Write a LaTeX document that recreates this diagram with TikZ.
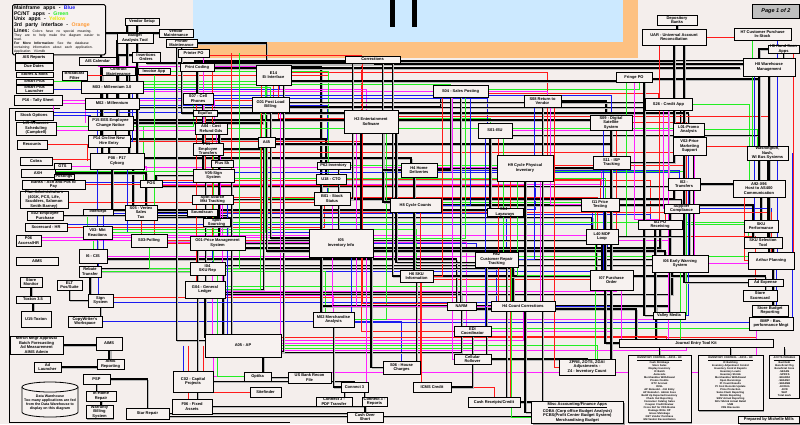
\documentclass[tikz,border=0pt]{standalone}
\usepackage{fontspec}
\setmainfont{Liberation Sans}
\usetikzlibrary{shadows}
\definecolor{bgc}{HTML}{F4EEEC}
\definecolor{boxc}{HTML}{F7F2F0}
\definecolor{skyc}{HTML}{CCE9FF}
\definecolor{orc}{HTML}{FDC182}
\definecolor{lb}{HTML}{1A1AF0}
\definecolor{lg}{HTML}{22EE22}
\definecolor{lr}{HTML}{FF1A1A}
\definecolor{lm}{HTML}{FF22FF}
\definecolor{yel}{HTML}{E6E600}
\definecolor{ora}{HTML}{FF9933}
\pgfdeclarelayer{bg}
\pgfdeclarelayer{lines}
\pgfsetlayers{bg,lines,main}
\tikzset{
 box/.style={draw,line width=0.7pt,fill=boxc,inner sep=0pt,align=center,
   font=\fontsize{4}{4.5}\selectfont\bfseries,
   drop shadow={shadow xshift=1.3pt,shadow yshift=-1.3pt,fill=gray!75,opacity=1}},
 lbox/.style={draw,line width=0.7pt,fill=boxc,inner sep=1.5pt,align=center,anchor=north,
   font=\fontsize{2.6}{3.0}\selectfont\bfseries,
   drop shadow={shadow xshift=1.3pt,shadow yshift=-1.3pt,fill=gray!75,opacity=1}},
 wk/.style={draw=black,line width=1.1pt,preaction={draw=gray!55,line width=1.1pt,transform canvas={xshift=1.2pt,yshift=-1.2pt}}},
 wr/.style={draw=lr,line width=0.9pt},
 wg/.style={draw=lg,line width=0.9pt},
 wb/.style={draw=lb,line width=0.9pt},
 wm/.style={draw=lm,line width=0.9pt}
}
\newcommand\bx[6]{\node[box,minimum width={(#4-#2)*1pt},minimum height={(#5-#3)*1pt}] (#1) at ({(#2+#4)/2},{(#3+#5)/2}) {#6};}
\begin{document}
\begin{tikzpicture}[x=1pt,y=-1pt]
\useasboundingbox (0,0) rectangle (800,424);
\begin{pgfonlayer}{bg}
\fill[bgc] (0,0) rectangle (800,424);
\fill[orc] (193,0) rectangle (638,58);
\fill[skyc] (193,0) rectangle (623,42);
\fill[black] (390,0) rectangle (395,27);
\fill[black] (412,0) rectangle (417,27);
\end{pgfonlayer}

% legend
\node[draw,line width=1pt,rounded corners=1.5pt,fill=boxc,anchor=north west,inner sep=1.5pt,text width=90pt,align=left,font=\bfseries] (leg) at (12,4) {%
{\fontsize{5.2}{5.5}\selectfont Mainframe apps - \textcolor{lb}{Blue}\\PC/NT apps - \textcolor{lg}{Green}\\Unix apps - \textcolor{yel}{Yellow}\\3rd party interface - \textcolor{ora}{Orange}\par}%
{\fontsize{3.4}{4.1}\selectfont {\fontsize{5.2}{5}\selectfont Lines:}\mdseries\ Colors have no special meaning. They are to help make the diagram easier to read.\par
\bfseries For More Information:\mdseries\ See the database containing information about each application. Application Vii.mdb\par}};

\node[draw,line width=1pt,fill=gray!50,font=\fontsize{5.5}{6}\selectfont\bfseries\itshape,minimum width=47pt,minimum height=14pt,inner sep=0pt] (page) at (776,11) {Page 1 of 2};

\bx{vsetup}{125}{18}{159}{25}{Vendor Setup}
\bx{vmaint}{159}{29}{193}{37}{Vendor\\Maintenance}
\bx{bat}{117}{33}{153}{43}{Budget\\Analysis Tool}
\bx{pmaint}{166}{39}{197}{47}{Printer\\Maintenance}
\bx{ppo}{178}{49}{209}{57}{Printer PO}
\bx{pcod}{180}{63}{214}{71}{Print Coding}
\bx{ins}{132}{52}{160}{62}{Insertions\\Orders}
\bx{inv}{138}{68}{170}{74}{Invoice App}
\bx{aiscal}{79}{57}{116}{65}{AIS Calendar}
\bx{cmaint}{102}{68}{135}{75}{Contract\\Maintenance}
\bx{aisrep}{15}{53}{53}{62}{AIS Reports}
\bx{due}{15}{63}{53}{70}{Due Dates}
\bx{stores}{16}{72}{53}{77}{Stores \& Mkts}
\bx{smart}{16}{79}{53}{84}{Smart Plus}
\bx{smartl}{16}{85}{53}{93}{Smart Plus\\Launcher}
\bx{bfilt}{62}{71}{87}{80}{Broadcast\\Filter}
\bx{m03}{81}{81}{143}{93}{M03 - Millennium 3.0}
\bx{p16}{14}{95}{62}{105}{P16 - Tally Sheet}
\bx{m02}{85}{98}{139}{109}{M02 - Millennium}
\bx{stock}{15}{111}{53}{120}{Stock Options}
\bx{lir}{16}{122}{56}{135}{LIR Resource\\Scheduling\\(Campbell)}
\bx{p15}{88}{116}{133}{130}{P15 EES Employee\\Change Notice}
\bx{p14}{88}{135}{130}{147}{P14 On-line New\\Hire Entry}
\bx{recounts}{17}{140}{47}{149}{Recounts}
\bx{p08}{90}{153}{144}{169}{P08 - P17\\Cyborg}
\bx{cobra}{20}{157}{52}{165}{Cobra}
\bx{gts}{54}{163}{71}{169}{GTS}
\bx{axh}{21}{169}{55}{177}{AXH}
\bx{postings}{54}{174}{74}{179}{Postings}
\bx{banks}{22}{180}{85}{189}{Banks - Ach and Pos to\\Pay}
\bx{pos}{140}{180}{162}{187}{POS}
\bx{plan}{20}{191}{68}{208}{Plan Administrators\\(401K, PCS, Life,\\Scudders, Salomon\\Smith Barney)}
\bx{intercept}{83}{209}{113}{215}{Intercept}
\bx{s05}{125}{205}{157}{220}{S05 - Vertex\\Sales\\Tax}
\bx{e02}{27}{211}{63}{220}{E02-Employee\\Purchase}
\bx{schr}{25}{223}{67}{231}{Scorecard - HR}
\bx{v03}{83}{226}{112}{239}{V03- Mkt\\Reactions}
\bx{p06}{16}{235}{41}{246}{P06\\Access/HR}
\bx{s03}{131}{234}{167}{247}{S03-Polling}
\bx{i6}{79}{249}{107}{263}{I6 - CIS}
\bx{aims}{16}{257}{58}{265}{AIMS}
\bx{rebate}{79}{266}{101}{277}{Rebate\\Transfer}
\bx{monitor}{20}{277}{42}{287}{Store\\Monitor}
\bx{elt}{57}{280}{82}{290}{ELT\\Pos/Suite}
\bx{toxton}{16}{296}{50}{303}{Toxton 3.5}
\bx{u15}{21}{311}{51}{327}{U15-Toxton}
\bx{sign}{88}{294}{113}{307}{Sign\\System}
\bx{copyw}{68}{316}{102}{327}{CopyWriter's\\Workspace}
\bx{merch}{10}{336}{63}{354}{Merch Mngr Approval\\Batch Forecasting\\Ad Measurement\\AIMS Admin}
\bx{aims2}{96}{337}{122}{350}{AIMS}
\bx{aimsrep}{97}{359}{124}{369}{AIMS\\Reporting}
\bx{adl}{34}{362}{61}{372}{Ad\\Launcher}
\bx{psp}{83}{374}{110}{384}{PSP}
\bx{inhome}{86}{391}{116}{401}{In-Home\\Repair}
\bx{warranty}{86}{406}{113}{418}{Warranty\\Billing\\System}
\bx{star}{126}{408}{169}{419}{Star Repair}
\bx{c02}{173}{371}{213}{392}{C02 - Capital\\Projects}
\bx{f06}{172}{399}{212}{414}{F06 - Fixed\\Assets}
\bx{g04}{185}{281}{225}{298}{G04 - General\\Ledger}
\bx{m02m}{313}{312}{354}{327}{M02 Merchandise\\Analysis}
\bx{a05}{205}{334}{281}{357}{A05 - AP}
\bx{optika}{244}{372}{271}{381}{Optika}
\bx{usbank}{288}{372}{331}{383}{US Bank Recon\\File}
\bx{conn3}{341}{382}{368}{392}{Connect 3}
\bx{conn3pdf}{316}{397}{352}{406}{Connect 3 -\\PDF Transfer}
\bx{conn3rep}{362}{397}{387}{406}{Connect 3 -\\Reports}
\bx{sitefinder}{250}{387}{281}{397}{Sitefinder}
\bx{cashover}{347}{412}{383}{422}{Cash Over\\Short}
\bx{s06}{383}{361}{420}{374}{S06 - House\\Charges}
\bx{narm}{447}{302}{476}{310}{NARM}
\bx{h4cc}{491}{301}{555}{311}{H4 Count Corrections}
\bx{edi}{454}{326}{491}{336}{EDI\\Coordinator}
\bx{cell}{454}{354}{491}{364}{Cellular\\Rollover}
\bx{icms}{413}{382}{451}{392}{ICMS Credit}
\bx{cashrec}{468}{397}{520}{407}{Cash Receipts/Credit}
\bx{zpre}{559}{359}{615}{375}{ZPRE, ZOTS, ZGAI\\Adjustments -\\Z4 - Inventory Count}
\bx{scorecard}{743}{290}{777}{301}{Store\\Scorecard}
\bx{sbudget}{752}{305}{788}{316}{Store Budget\\Reporting}
\bx{bmp}{749}{317}{793}{330}{BMP - Bus.\\performance Mngt}
\bx{valley}{653}{312}{685}{319}{Valley Media}
\bx{jet}{619}{339}{773}{347}{Journal Entry Tool Kit}
\bx{depo}{657}{15}{697}{25}{Depository\\Banks}
\bx{uar}{642}{29}{706}{45}{UAR - Universal Account\\Reconciliation}
\bx{h7}{734}{28}{791}{40}{H7 Customer Purchase\\In-Stock}
\bx{h6hand}{768}{45}{799}{53}{H6 Hand Scan\\Apps}
\bx{h8wm}{743}{58}{795}{76}{H8 Warehouse\\Management}
\bx{fringe}{616}{72}{652}{82}{Fringe PO}
\bx{s26}{645}{98}{692}{110}{S26 - Credit App}
\bx{s09}{590}{115}{632}{130}{S09 - Digital\\Satellite\\System}
\bx{l01}{673}{123}{704}{136}{L01-Promo\\Analysis}
\bx{s04}{433}{85}{488}{97}{S04 - Sales Posting}
\bx{s08}{524}{95}{561}{107}{S08 Return to\\Vendor}
\bx{s01}{478}{123}{512}{138}{S01-ISU}
\bx{corr}{345}{56}{400}{63}{Corrections}
\bx{e14}{256}{65}{291}{85}{E14\\Ei Interface}
\bx{g01p}{252}{97}{289}{112}{G01 Post Load\\Billing}
\bx{h2}{344}{110}{398}{133}{H2 Entertainment\\Software}
\bx{s07}{183}{93}{213}{104}{S07 - Cell\\Phones}
\bx{equifax}{193}{110}{217}{116}{Equifax}
\bx{a04}{195}{123}{227}{134}{A04 - Cost\\Refund Gds}
\bx{a45}{258}{137}{275}{147}{A45}
\bx{p01}{193}{143}{223}{155}{P01 -\\Employee\\Transfers}
\bx{plussk}{211}{160}{233}{167}{Plus Sk}
\bx{v05}{193}{169}{234}{182}{V05-Sign\\System}
\bx{spot}{192}{195}{233}{204}{Spot Source\\Mkt Tracking}
\bx{sound}{187}{209}{217}{216}{Soundscan}
\bx{spotsrc}{203}{219}{230}{226}{Spot\\Sourcing}
\bx{g01pm}{190}{236}{245}{250}{G01-Price Management\\System}
\bx{u18}{316}{174}{346}{184}{U18 - CTO}
\bx{p62}{317}{162}{350}{169}{P62 Inventory}
\bx{b01}{314}{192}{350}{205}{B01 - Stock\\Status}
\bx{i05}{309}{229}{373}{257}{I05\\Inventory Info}
\bx{i04}{190}{262}{225}{275}{I04\\SKU Rep}
\bx{h4hd}{401}{163}{437}{177}{H4 Home\\Deliveries}
\bx{h9}{497}{155}{553}{181}{H9 Cycle Physical\\Inventory}
\bx{h8cc}{390}{198}{441}{212}{H8 Cycle Counts}
\bx{s14}{487}{208}{523}{216}{S14 -\\Layaways}
\bx{h82}{475}{252}{518}{267}{H82\\Customer Repair\\Tracking}
\bx{h6sku}{400}{270}{433}{282}{H6 SKU\\Information}
\bx{i11}{581}{198}{619}{211}{I11 Price\\Testing}
\bx{l40}{586}{229}{618}{244}{L40 MDF\\Loop}
\bx{i07}{590}{270}{633}{290}{I07 Purchase\\Order}
\bx{s11}{593}{156}{630}{169}{S11 - ISP\\Tracking}
\bx{v02}{673}{137}{706}{155}{V02-Price\\Marketing\\Support}
\bx{wash}{747}{146}{788}{160}{Washington,\\Nash,\\WI Bus Systems}
\bx{i02}{668}{178}{700}{190}{I02 -\\Transfers}
\bx{a92}{733}{180}{785}{197}{A92-X96\\Host to AS400\\Communication}
\bx{supp}{664}{204}{699}{213}{Supplier\\Compliance}
\bx{i01}{638}{220}{682}{229}{I01 PO\\Receiving}
\bx{skuperf}{744}{220}{778}{232}{SKU\\Performance}
\bx{skusel}{744}{237}{782}{248}{SKU Selection\\Tool}
\bx{i06}{652}{255}{708}{272}{I06 Early Warning\\System}
\bx{arthur}{748}{252}{794}{269}{Arthur Planning}
\bx{adexp}{748}{279}{783}{286}{Ad Expense}

\node[box,anchor=north west,minimum width=92pt,minimum height=22pt,font=\fontsize{4}{4.6}\selectfont\bfseries] (misc) at (531,401) {\underline{Misc Accounting/Finance Apps}\\COBA (Corp office Budget Analysis)\\PCBS(Profit Center Budget System)\\Merchandising Budget};
\node[box,anchor=north west,minimum width=61pt,minimum height=7pt] (prep) at (738,416) {Prepared by Michelle Mills};

\node[lbox,text width=60pt] (list1) at (659.5,355) {\underline{INVENTORY CONTROL - A/P/A - HC}\\Cash Shrinkage\\Store Sales\\Display Inventory\\IC Batch\\Autocode\\Merchandise Withdrawal\\Promo Credits\\RTV Accrual\\IC/GL\\AP Remodel - Jrnl Entry\\AP Remodel - Admin Fees\\Build Up Expected Inventory\\Check Out Reporting\\Consumer Catalog Sales\\Coupon Credit Review\\Cross Ref for VDS Books\\Damage Write Off\\Gross Shrinkage\\GST Vendor Purchase\\GM Vendor Reconciliation};
\node[lbox,text width=62pt] (list2) at (730.5,355) {\underline{INVENTORY CONTROL - A/P/A - HC}\\IC Batching\\Inventory Adjustment Control\\Inventory Control Reports\\Inventory Levels\\Inventory Shrink\\Merchandise Withdrawal\\Open Receivings\\PI Count Results\\PI Cost Records Update\\Price Protection\\Sales Flash Reporting\\Shrink Reporting\\SWV Actual Reporting\\SKU Shrink Actual Retail\\USM\\VDS Discounts};
\node[lbox,text width=27pt] (list3) at (784.5,355) {\underline{ACCTS PAYABLE}\\Bad Debt\\Beneficial Chg\\Beneficial Cons\\-SEARS\\-SPIFFS\\-SEARS2\\-SEARSC\\-SEARSB\\-EXCHG\\-DVD\\WAT\\Total mark};

% data warehouse cylinder
\draw[line width=0.8pt,fill=boxc] (22,387) -- (22,412) arc[start angle=180,end angle=360,x radius=28pt,y radius=5pt] -- (78,387);
\draw[line width=0.8pt,fill=boxc] (50,387) ellipse[x radius=28pt,y radius=5pt];
\node[font=\fontsize{3.6}{4}\selectfont\bfseries,align=center,inner sep=0pt] (dw) at (50,403) {Data Warehouse\\Too many applications are fed\\from the Data Warehouse to\\display on this diagram};

\begin{pgfonlayer}{lines}
\draw[line width=0.9pt] (60,108) -- (9,108) -- (9,422) -- (290,422);
% horizontal then vertical
\foreach \fa/\fb/\col/\p/\q in {
aiscal/m03/wk/0/-10, bat/m02/wk/-3/5, ins/p15/wk/2/8, inv/p08/wk/0/12, vsetup/m03/wk/0/15,
vmaint/p14/wk/0/-8, pmaint/a45/wk/0/0, ppo/h2/wr/-2/-10, pcod/i05/wk/0/-20, m03/h2/wm/-2/-5,
m03/s04/wg/3/-10, m02/b01/wb/-2/-5, m02/e14/wr/3/0, p16/p15/wm/-3/-25, stock/p15/wb/0/-20,
lir/pos/wg/2/-8, p15/g01p/wk/0/-8, p14/u18/wk/2/-5, recounts/p08/wr/0/-30, p08/s05/wk/-3/-8,
cobra/p08/wr/2/-25, gts/pos/wm/0/-5, axh/s05/wk/0/5, banks/s03/wr/0/5, plan/i05/wr/-3/-20,
intercept/s05/wr/2/10, e02/v03/wg/0/-10, schr/i6/wg/0/0, p06/s03/wm/0/0, v03/i05/wb/0/-30,
i6/g04/wb/0/0, rebate/a05/wk/0/-20, s03/h82/wb/-3/-20, s05/h8cc/wk/0/-15, pos/h9/wr/-2/0,
pos/i01/wr/3/-10, g01pm/i05/wk/0/0, i04/h6sku/wg/0/0, g04/narm/wk/-3/0, g04/h82/wg/3/15,
i05/i07/wm/3/0, i05/l40/wb/-4/5, h8cc/i11/wg/3/-5, s14/i01/wb/-2/-10, h82/i06/wk/0/-10,
h6sku/i07/wr/-3/-15, h4hd/s11/wk/2/-10, h9/v02/wr/3/-5, h9/i02/wg/-3/0, b01/s14/wm/0/5,
u18/h9/wk/0/-15, h2/s01/wg/3/-5, s04/s26/wr/-2/-10, s04/fringe/wg/2/5, s08/s09/wk/0/-5,
s01/l01/wm/0/-5, e14/s08/wr/3/5, g01p/s04/wk/-2/-20, corr/h8wm/wk/-1/-20, uar/h7/wb/0/-10,
fringe/h8wm/wk/-2/-10, s26/a92/wg/0/-10, s09/supp/wr/0/5, l01/wash/wg/0/-10, v02/a92/wr/0/0,
i02/skuperf/wk/0/0, supp/arthur/wb/0/0, i01/skusel/wg/0/-15, i06/arthur/wm/0/0, l40/adexp/wr/0/-10,
i11/i06/wk/0/-10, h7/i02/wr/-3/0, h6hand/a92/wk/0/0, m02m/h4cc/wr/0/0, a05/zpre/wg/0/10,
a05/jet/wm/-5/-10, narm/valley/wk/0/0, h4cc/jet/wk/0/-40, edi/i07/wm/0/0, cell/zpre/wk/0/0,
icms/cashrec/wr/0/0, star/misc/wk/-3/-20, sign/h82/wb/-2/0, copyw/s06/wb/0/0, psp/star/wk/0/0,
aims2/aimsrep/wk/0/0, merch/aims2/wk/0/0, adl/aims2/wk/0/0, ppo/uar/wk/-8/0,
p08/h4hd/wk/3/-8, pos/s11/wm/-1/-10, s05/h9/wb/3/10, v05/i11/wg/-3/5, spot/l40/wr/2/-5,
g01pm/i06/wm/3/-12, i04/i07/wb/-3/8, g04/i06/wk/-5/-8, i6/h4cc/wm/0/20, rebate/m02m/wg/0/-8,
sign/narm/wr/3/-5, p06/i05/wm/3/-25, schr/b01/wr/0/-8, v03/h6sku/wg/3/0, s03/edi/wm/-2/-6,
intercept/h82/wb/-1/10, axh/v05/wg/2/-10, banks/i04/wb/2/5, e02/g01pm/wk/0/10, stock/a45/wb/3/-5,
lir/p01/wm/-2/8, p14/h2/wr/0/-10, p15/s07/wg/-3/-5, m02/s01/wb/5/-8, m03/s08/wm/-4/5,
bfilt/p62/wr/0/-5, smartl/e14/wb/0/6, smart/g01p/wg/0/-4, p16/a04/wm/0/3, cmaint/b01/wg/0/-4,
m02m/bmp/wb/-3/0, a05/jet/wr/8/60, usbank/bmp/wm/5/-15, edi/sbudget/wg/3/0,
p15/s09/wk/3/-10, m02/l01/wk/-4/-8, g01p/s26/wk/2/0, e14/fringe/wk/-6/0, a45/s11/wk/-2/0,
p01/v02/wr/-3/0, b01/i02/wk/0/-10, u18/i11/wr/0/0, p62/h9/wg/0/-20, s05/l40/wk/-5/-10,
s03/i07/wk/0/-15, g01pm/i01/wk/-5/0, i04/i06/wk/3/-20, g04/i07/wm/-2/5, i6/narm/wk/-3/-5,
rebate/h4cc/wk/3/-10, v03/l40/wm/-3/-3, schr/i11/wb/3/-8, intercept/s14/wk/2/0, p08/s14/wm/-6/5,
pos/i02/wk/-3/0, v05/i02/wb/3/-5, spot/supp/wk/0/0, sound/i01/wr/0/5, spotsrc/skuperf/wg/0/0,
s07/s09/wb/3/0, equifax/l01/wk/0/0, a04/v02/wg/0/0, pcod/h8wm/wk/-1/-30, ppo/h6hand/wk/-11/0,
ins/corr/wk/-6/0, aiscal/e14/wm/-5/0, m03/g01p/wg/0/0, h2/h8wm/wr/5/0, s01/a92/wk/-5/0,
h4hd/i02/wb/0/-5, h8cc/skusel/wk/0/-10, s14/arthur/wr/0/0, h82/arthur/wg/3/10, h6sku/adexp/wk/0/0,
i05/i06/wk/-8/-15, m02m/valley/wm/0/0, narm/jet/wk/-3/-60, h4cc/i07/wb/0/0, edi/jet/wr/-5/-30,
a05/cell/wm/2/0, a05/edi/wg/-3/0, a05/h4cc/wm/5/0, a05/narm/wk/-7/0, g04/m02m/wm/-6/0,
c02/conn3/wk/0/0, f06/cashover/wk/0/0}
  \draw[\col] ([yshift=\p pt]\fa.center) -| ([xshift=\q pt]\fb.center);
% vertical then horizontal
\foreach \fa/\fb/\col/\p/\q in {
m03/p08/wk/-10/0, e14/h2/wr/5/3, e14/b01/wg/-8/0, g01p/i05/wk/0/5, g01p/a05/wm/10/0,
a45/p01/wk/0/0, s07/v05/wk/5/0, equifax/spot/wr/0/0, a04/g01pm/wk/8/0, p01/i04/wg/5/0,
v05/g04/wk/-8/5, spot/g04/wm/10/0, h2/i05/wk/-10/5, h2/m02m/wg/15/0, s04/h4hd/wk/-10/0,
s04/h8cc/wb/10/0, s08/h9/wr/5/0, s01/s14/wk/-5/0, s01/h82/wg/8/0, s26/i02/wk/0/0,
s09/l40/wr/5/0, fringe/i01/wm/0/5, uar/s11/wk/0/0, h8wm/a92/wk/-10/0, h7/arthur/wb/15/-3,
depo/uar/wk/0/0, h9/i07/wg/-8/5, h9/h4cc/wm/15/0, i11/jet/wk/5/0, l40/i07/wk/0/0,
i07/jet/wm/10/0, i06/jet/wg/0/3, skusel/bmp/wk/10/0, arthur/sbudget/wb/5/0, adexp/scorecard/wk/0/0,
i05/narm/wk/-20/0, i05/m02m/wb/10/5, i05/edi/wr/20/0, h82/cell/wk/-10/0, h82/cashrec/wk/10/0,
h6sku/s06/wk/0/0, m02m/conn3/wk/0/0, a05/optika/wm/-30/0, a05/sitefinder/wr/-40/0, a05/usbank/wk/20/0,
a05/c02/wb/-60/0, a05/f06/wr/-55/3, g04/a05/wk/0/8, g01pm/a05/wg/10/0, i04/a05/wm/5/-5,
conn3/conn3pdf/wk/-10/0, conn3/conn3rep/wk/10/0, s05/g01pm/wr/0/0, s03/i04/wg/0/0, pos/v05/wk/5/0,
p08/intercept/wk/-5/0, p08/v03/wb/10/0, p14/p08/wk/0/0, p15/p14/wk/5/0, m02/p15/wk/5/0,
m03/m02/wk/-5/0, stock/lir/wk/0/0, intercept/i6/wb/5/0, v03/rebate/wk/0/0, i6/sign/wb/5/0,
rebate/sign/wk/0/0, sign/copyw/wk/0/0, toxton/u15/wk/0/0, monitor/toxton/wk/0/0, elt/sign/wk/0/0,
psp/inhome/wk/0/0, inhome/warranty/wk/0/0, edi/cell/wk/0/0, narm/edi/wk/0/0, cell/icms/wk/0/0,
valley/i06/wk/0/0, p16/stock/wm/15/0, e14/s03/wr/-12/0, g01p/v03/wg/-5/0, a45/g04/wk/-3/0,
h2/narm/wm/-15/0, h2/h8cc/wk/12/3, s04/h6sku/wr/-18/0, s04/i05/wg/5/5, s08/h82/wb/-8/0,
s08/i11/wm/8/0, s01/h4cc/wr/3/0, corr/b01/wk/-20/0, corr/h4hd/wk/10/0, fringe/l40/wg/-8/0,
s26/supp/wm/-5/0, s09/i07/wb/-8/0, uar/i01/wr/-15/0, l01/i06/wk/5/0, h8wm/skuperf/wb/-15/0,
h7/wash/wg/-10/0, h6hand/arthur/wr/10/0, v02/i06/wm/5/0, wash/skusel/wk/0/0, a92/arthur/wr/-15/0,
i02/i06/wk/5/3, supp/valley/wg/5/0, i01/valley/wk/-5/0, pcod/g01pm/wr/15/0, ppo/i04/wg/46/0,
ppo/g04/wr/38/0, pmaint/a05/wk/-5/5, cashover/star/wk/0/0,
e14/a05/wk/10/-6, g01p/g04/wg/-10/0, s07/g04/wr/-2/-5, a45/i05/wk/0/-8, p62/i05/wk/5/0,
u18/m02m/wk/-10/0, b01/h4cc/wm/0/0, corr/h6sku/wk/20/0, corr/narm/wr/-10/3, h2/h82/wk/25/-3,
s04/narm/wk/0/0, s04/cell/wm/-8/0, s08/cashrec/wk/0/0, s08/zpre/wr/12/0, s01/edi/wb/-10/0,
s26/jet/wm/0/0, fringe/valley/wk/10/0, s09/zpre/wk/0/0, l01/valley/wb/0/0, uar/l40/wk/10/0,
h8wm/arthur/wk/0/0, wash/bmp/wb/25/0, i02/adexp/wk/0/0, i11/zpre/wg/-5/0, h9/misc/wk/0/0,
h9/cashrec/wr/-15/0, i05/conn3/wm/25/0, i05/s06/wk/30/0, h6sku/icms/wr/5/0, h82/misc/wg/15/-5,
h4hd/h6sku/wk/-5/3, h8cc/s06/wr/5/0, g01pm/f06/wk/-20/0, i04/c02/wk/-10/0, i04/optika/wg/10/0,
spot/a05/wb/15/0, v05/a05/wk/18/3, p01/g01pm/wm/12/0, m02/i6/wb/-15/0, m03/p14/wb/20/0,
vsetup/p08/wk/-5/0, inv/s05/wg/0/0, pcod/s07/wk/0/0, ppo/a04/wm/10/0, pmaint/equifax/wk/0/0}
  \draw[\col] ([xshift=\p pt]\fa.center) |- ([yshift=\q pt]\fb.center);
\draw[wk] (list1.north |- jet.south) -- (list1.north);
\draw[wk] (list2.north |- jet.south) -- (list2.north);
\draw[wk] (list3.north |- jet.south) -- (list3.north);
\end{pgfonlayer}
\end{tikzpicture}
\end{document}
